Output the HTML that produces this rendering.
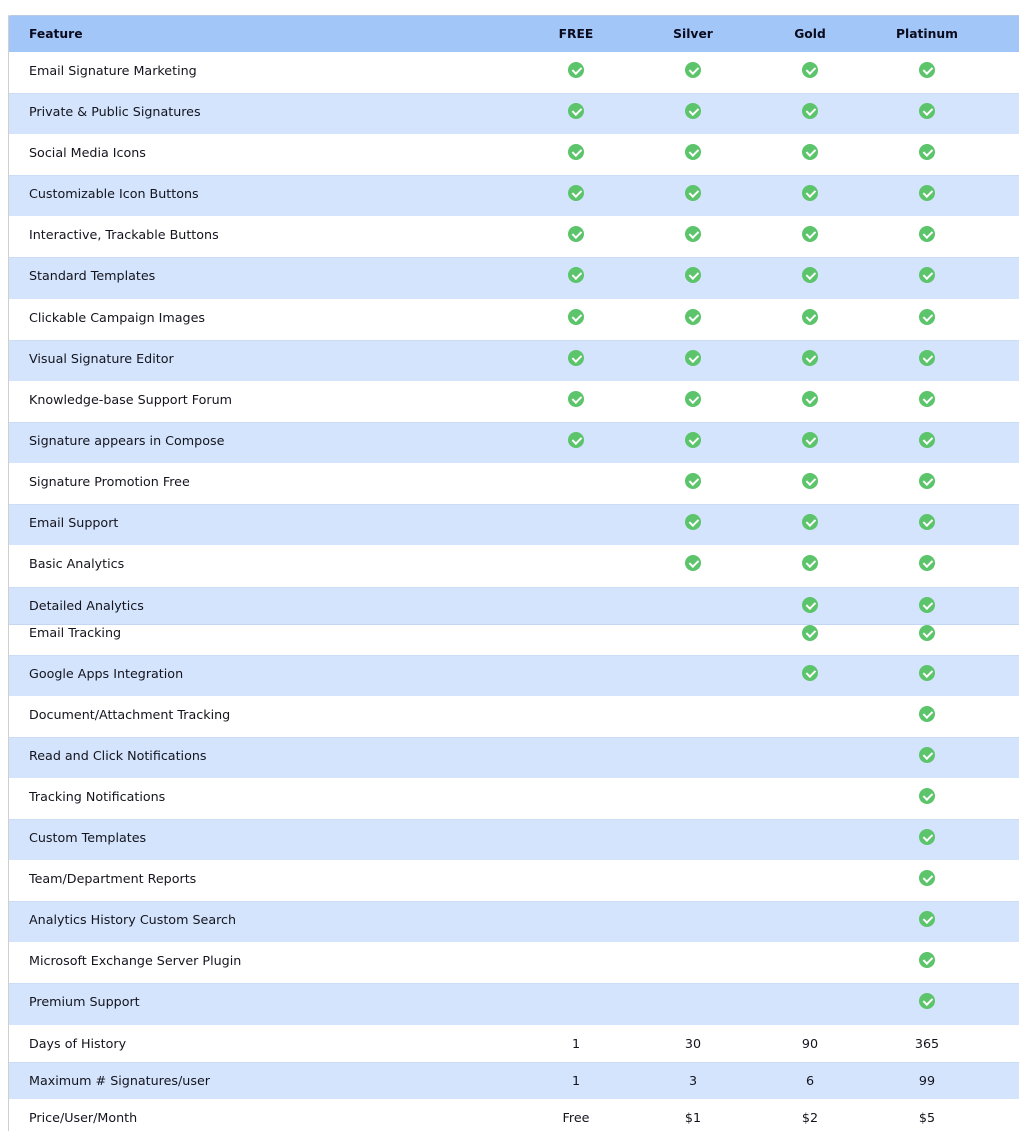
<!DOCTYPE html>
<html>
<head>
<meta charset="utf-8">
<style>
html,body{margin:0;padding:0;background:#fff;}
body{width:1019px;height:1131px;position:relative;overflow:hidden;font-family:"DejaVu Sans","Liberation Sans",sans-serif;font-size:12.7px;color:#14141e;}
.vl{position:absolute;left:8px;top:15px;width:1px;height:1116px;background:#cfcfcf;}
.hd{position:absolute;left:9px;top:15px;width:1010px;height:37px;background:#a3c6f8;border-top:1px solid #b9cbe3;box-sizing:border-box;border-top-left-radius:2px;}
.hd span{position:absolute;top:8px;line-height:20px;font-weight:bold;font-size:12.3px;color:#0b0b1e;}
.r{position:absolute;left:9px;width:1010px;}
.b{background:#d3e4fc;}
.b::before{content:"";position:absolute;left:0;right:0;top:0;height:1px;background:#cbdcf5;}
.t{position:absolute;left:20px;top:9px;line-height:20px;white-space:nowrap;}
.c{position:absolute;top:10px;width:16px;height:16px;border-radius:50%;background:#5cc46b;}
.c::after{content:"";position:absolute;left:5.5px;top:3px;width:3.5px;height:7px;border:solid #fff;border-width:0 2px 2px 0;transform:rotate(45deg);}
.c1{left:559px}.c2{left:676px}.c3{left:793px}.c4{left:910px}
.n{position:absolute;top:9px;line-height:20px;width:100px;text-align:center;}
.n1{left:517px}.n2{left:634px}.n3{left:751px}.n4{left:868px}
.et .t{top:-2px}.et .c{top:0px}
</style>
</head>
<body>
<div class="vl"></div>
<div class="hd">
  <span style="left:20px">Feature</span>
  <span style="left:517px;width:100px;text-align:center">FREE</span>
  <span style="left:634px;width:100px;text-align:center">Silver</span>
  <span style="left:751px;width:100px;text-align:center">Gold</span>
  <span style="left:868px;width:100px;text-align:center">Platinum</span>
</div>

<div class="r" style="top:52px;height:41px"><span class="t">Email Signature Marketing</span><i class="c c1"></i><i class="c c2"></i><i class="c c3"></i><i class="c c4"></i></div>
<div class="r b" style="top:93px;height:41px"><span class="t">Private &amp; Public Signatures</span><i class="c c1"></i><i class="c c2"></i><i class="c c3"></i><i class="c c4"></i></div>
<div class="r" style="top:134px;height:41px"><span class="t">Social Media Icons</span><i class="c c1"></i><i class="c c2"></i><i class="c c3"></i><i class="c c4"></i></div>
<div class="r b" style="top:175px;height:41px"><span class="t">Customizable Icon Buttons</span><i class="c c1"></i><i class="c c2"></i><i class="c c3"></i><i class="c c4"></i></div>
<div class="r" style="top:216px;height:41px"><span class="t">Interactive, Trackable Buttons</span><i class="c c1"></i><i class="c c2"></i><i class="c c3"></i><i class="c c4"></i></div>
<div class="r b" style="top:257px;height:42px"><span class="t">Standard Templates</span><i class="c c1"></i><i class="c c2"></i><i class="c c3"></i><i class="c c4"></i></div>
<div class="r" style="top:299px;height:41px"><span class="t">Clickable Campaign Images</span><i class="c c1"></i><i class="c c2"></i><i class="c c3"></i><i class="c c4"></i></div>
<div class="r b" style="top:340px;height:41px"><span class="t">Visual Signature Editor</span><i class="c c1"></i><i class="c c2"></i><i class="c c3"></i><i class="c c4"></i></div>
<div class="r" style="top:381px;height:41px"><span class="t">Knowledge-base Support Forum</span><i class="c c1"></i><i class="c c2"></i><i class="c c3"></i><i class="c c4"></i></div>
<div class="r b" style="top:422px;height:41px"><span class="t">Signature appears in Compose</span><i class="c c1"></i><i class="c c2"></i><i class="c c3"></i><i class="c c4"></i></div>
<div class="r" style="top:463px;height:41px"><span class="t">Signature Promotion Free</span><i class="c c2"></i><i class="c c3"></i><i class="c c4"></i></div>
<div class="r b" style="top:504px;height:41px"><span class="t">Email Support</span><i class="c c2"></i><i class="c c3"></i><i class="c c4"></i></div>
<div class="r" style="top:545px;height:42px"><span class="t">Basic Analytics</span><i class="c c2"></i><i class="c c3"></i><i class="c c4"></i></div>
<div class="r b" style="top:587px;height:38px;border-bottom:1px solid #c4d7f2;box-sizing:border-box"><span class="t">Detailed Analytics</span><i class="c c3"></i><i class="c c4"></i></div>
<div class="r et" style="top:625px;height:30px"><span class="t">Email Tracking</span><i class="c c3"></i><i class="c c4"></i></div>
<div class="r b" style="top:655px;height:41px"><span class="t">Google Apps Integration</span><i class="c c3"></i><i class="c c4"></i></div>
<div class="r" style="top:696px;height:41px"><span class="t">Document/Attachment Tracking</span><i class="c c4"></i></div>
<div class="r b" style="top:737px;height:41px"><span class="t">Read and Click Notifications</span><i class="c c4"></i></div>
<div class="r" style="top:778px;height:41px"><span class="t">Tracking Notifications</span><i class="c c4"></i></div>
<div class="r b" style="top:819px;height:41px"><span class="t">Custom Templates</span><i class="c c4"></i></div>
<div class="r" style="top:860px;height:41px"><span class="t">Team/Department Reports</span><i class="c c4"></i></div>
<div class="r b" style="top:901px;height:41px"><span class="t">Analytics History Custom Search</span><i class="c c4"></i></div>
<div class="r" style="top:942px;height:41px"><span class="t">Microsoft Exchange Server Plugin</span><i class="c c4"></i></div>
<div class="r b" style="top:983px;height:42px"><span class="t">Premium Support</span><i class="c c4"></i></div>
<div class="r" style="top:1025px;height:37px"><span class="t">Days of History</span><span class="n n1">1</span><span class="n n2">30</span><span class="n n3">90</span><span class="n n4">365</span></div>
<div class="r b" style="top:1062px;height:37px"><span class="t">Maximum # Signatures/user</span><span class="n n1">1</span><span class="n n2">3</span><span class="n n3">6</span><span class="n n4">99</span></div>
<div class="r" style="top:1099px;height:32px"><span class="t">Price/User/Month</span><span class="n n1">Free</span><span class="n n2">$1</span><span class="n n3">$2</span><span class="n n4">$5</span></div>
</body>
</html>
